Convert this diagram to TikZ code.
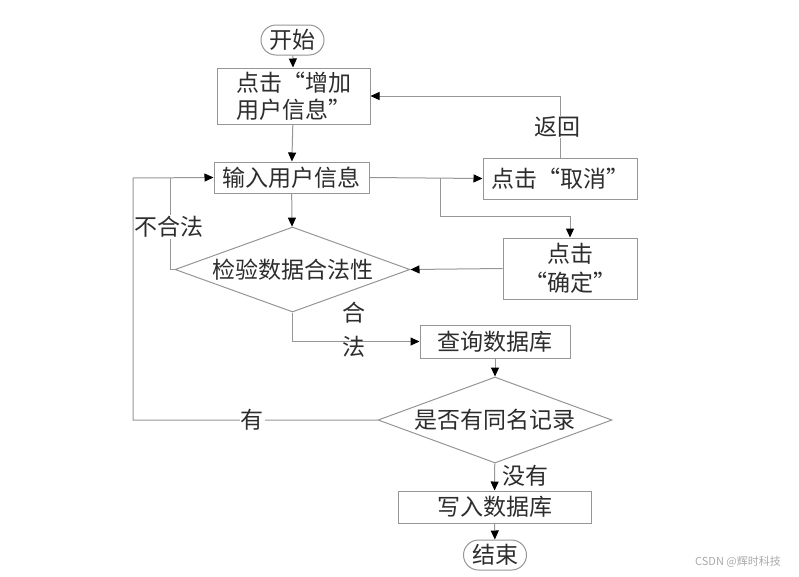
\documentclass[tikz,border=0pt]{standalone}
\usepackage{fontspec}
\setmainfont[CharacterWidth=Full]{Noto Sans CJK SC}
\newfontfamily\wmfont{Noto Sans CJK SC}
\usetikzlibrary{shapes.geometric,arrows.meta}
\definecolor{ln}{RGB}{150,150,150}
\definecolor{tx}{RGB}{45,45,45}
\begin{document}
\begin{tikzpicture}[x=1pt,y=-1pt,
  box/.style={draw=ln,line width=1pt,rectangle,inner sep=0pt,font=\fontsize{23}{27}\selectfont,text=tx,align=center},
  term/.style={draw=ln,line width=1pt,rectangle,rounded corners=15pt,inner sep=0pt,minimum width=63pt,minimum height=30pt,font=\fontsize{23}{27}\selectfont,text=tx},
  dia/.style={draw=ln,line width=1pt,diamond,inner sep=0pt,aspect=2.75,font=\fontsize{23}{27}\selectfont,text=tx},
  lab/.style={font=\fontsize{23}{27}\selectfont,text=tx,inner sep=1pt},
  conn/.style={draw=ln,line width=1pt,-{Triangle[length=9pt,width=8pt,color=black]}},
  plain/.style={draw=ln,line width=1pt}
]
\useasboundingbox[fill=white] (0,0) rectangle (799,576);

\node[term] (start) at (292.5,40) {开始};
\node[box,minimum width=153pt,minimum height=56pt] (b1) at (293.5,96) {点击“增加\\用户信息”};
\node[box,minimum width=155pt,minimum height=31pt] (b2) at (291.5,177.5) {输入用户信息};
\node[dia,minimum width=235pt,minimum height=85pt] (d1) at (292.5,269.5) {检验数据合法性};
\node[box,minimum width=154pt,minimum height=41pt] (cancel) at (560,178.5) {点击“取消”};
\node[box,minimum width=134pt,minimum height=61pt,font=\fontsize{23}{29}\selectfont] (confirm) at (570,268.5) {点击\\“确定”};
\node[box,minimum width=150pt,minimum height=33pt] (query) at (495,341.5) {查询数据库};
\node[dia,minimum width=234pt,minimum height=86pt] (d2) at (495,420) {是否有同名记录};
\node[box,minimum width=193pt,minimum height=32pt] (write) at (494.5,507) {写入数据库};
\node[term] (end) at (495,555) {结束};

\coordinate (br) at (440,178);
\coordinate (brk) at (570,216);
\coordinate (inl) at (170,178);
\coordinate (outl) at (133,178);

\draw[conn] (start) -- (b1);
\draw[conn] (b1) -- (b2);
\draw[conn] (b2) -- (d1);
\draw[conn] (b2.east) -- (cancel.west);
\draw[plain] (br) |- (brk);
\draw[conn] (brk) -- (confirm.north);
\draw[conn] (cancel.north) |- (b1.east);
\draw[conn] (confirm.west) -- (d1.east);
\draw[plain] (d1.west) -| (inl);
\draw[conn] (d2.west) -| (outl) -- (b2.west);
\draw[conn] (d1.south) |- (query.west);
\draw[conn] (query) -- (d2);
\draw[conn] (d2) -- (write);
\draw[conn] (write) -- (end);

\node[lab,fill=white] (l1) at (557,127) {返回};
\node[lab,fill=white] (l2) at (169,227) {不合法};
\node[lab,fill=white] (l3) at (252,420) {有};
\node[lab,align=center,font=\fontsize{23}{34}\selectfont] (l4) at (354,330) {合\\法};
\node[lab] (l5) at (525,476) {没有};
\node[font=\wmfont\fontsize{11}{13}\selectfont,text={rgb,255:red,170;green,170;blue,170}] (wm) at (738,562) {CSDN @辉时科技};
\end{tikzpicture}
\end{document}
